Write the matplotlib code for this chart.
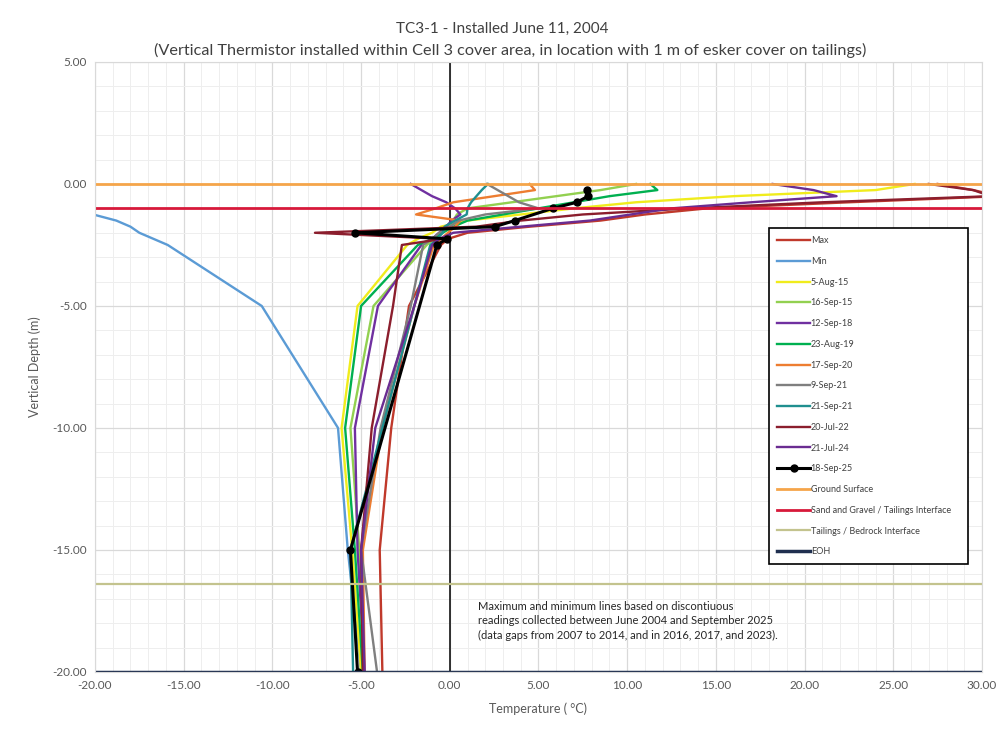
import numpy as np
import matplotlib
matplotlib.use("Agg")
import matplotlib.pyplot as plt
from matplotlib.ticker import MultipleLocator, FormatStrFormatter

plt.rcParams['font.family'] = ['Lato', 'DejaVu Sans']

#%% data (temperature in degC at each thermistor depth, nan = no reading)
depth = [0.0, -0.25, -0.5, -0.75, -1.0, -1.25, -1.5, -1.75, -2.0, -2.25, -2.5, -5.0, -10.0, -15.0, -20.0]

t_max     = [27.5, 29.5, 31.0, 22.5, 14.5, 11.0, 8.5, 4.5, 1.0, -0.1, -0.5, -2.3, -3.3, -3.95, -3.8]
t_min     = [-27.0, -26.0, -24.5, -23.0, -21.5, -20.1, -18.8, -18.0, -17.5, -16.7, -15.9, -10.6, -6.3, -5.75, -5.0]
t_aug15   = [26.2, 24.0, 16.0, 10.5, 7.0, 4.0, 1.0, -0.5, -1.0, -1.8, -2.4, -5.2, -6.1, -5.5, -5.0]
t_sep15   = [10.5, 8.5, 6.0, 3.5, 1.0, 0.4, 0.2, -0.2, -0.5, -0.9, -1.3, -4.3, -5.6, -5.1, -4.85]
t_sep18   = [-2.2, -1.6, -1.0, -0.2, 0.3, 0.6, 0.1, -0.2, -0.6, -1.0, -1.6, -4.05, -5.35, -5.2, -4.8]
t_aug19   = [11.3, 11.7, 9.0, 7.0, 5.0, 3.0, 1.0, 0.2, -0.4, -1.0, -1.8, -5.0, -5.9, -5.35, -4.9]
t_sep20   = [4.5, 4.8, 2.5, 0.2, -0.8, -1.9, 0.6, 0.3, -0.1, -0.5, -0.9, -2.0, -3.8, -4.9, -4.8]
t_sep21a  = [2.1, 2.7, 3.3, 3.9, 5.0, 2.0, 0.5, 0.0, -0.6, -1.0, -1.5, -2.2, -3.9, -5.0, -4.1]
t_sep21b  = [2.15, 1.8, 1.5, 1.2, 1.0, 0.95, 0.3, -0.3, -0.4, -0.7, -1.1, -2.0, -3.8, -5.6, -5.45]
t_jul22   = [27.0, 29.5, 30.5, 21.0, 13.5, 7.5, 4.0, 1.5, -7.6, -0.4, -2.7, -3.2, -4.4, -5.0, -4.9]
t_jul24   = [18.2, 20.5, 21.8, 17.0, 12.5, 10.2, 7.9, 4.0, 0.2, -0.6, -1.0, -2.0, -4.2, -5.0, -4.8]
t_sep25   = [np.nan, 7.72, 7.8, 7.16, 5.8, np.nan, 3.66, 2.54, -5.36, -0.17, -0.73, np.nan, np.nan, -5.6, -5.2]

ground_surface = 0.0
sand_tailings = -1.0
tailings_bedrock = -16.4
eoh = -20.0
temp_span = [-20.0, 30.0]

series = [
    ('Max', t_max, '#C0392B'),
    ('Min', t_min, '#5B9BD5'),
    ('5-Aug-15', t_aug15, '#F0EC1C'),
    ('16-Sep-15', t_sep15, '#92D050'),
    ('12-Sep-18', t_sep18, '#7030A0'),
    ('23-Aug-19', t_aug19, '#00B050'),
    ('17-Sep-20', t_sep20, '#ED7D31'),
    ('9-Sep-21', t_sep21a, '#7F7F7F'),
    ('21-Sep-21', t_sep21b, '#1F8F8F'),
    ('20-Jul-22', t_jul22, '#8B1E2D'),
    ('21-Jul-24', t_jul24, '#6A2C91'),
]

#%% figure
fig = plt.figure(figsize=(10.04, 7.36), dpi=100)
ax = fig.add_axes([0.0946, 0.087, 0.8835, 0.8288])

depth = np.array(depth)
for label, temps, col in series:
    temps = np.array(temps)
    ok = ~np.isnan(temps)
    ax.plot(temps[ok], depth[ok], color=col, lw=1.7, label=label, solid_joinstyle='round')

temps = np.array(t_sep25)
ok = ~np.isnan(temps)
ax.plot(temps[ok], depth[ok], color='black', lw=2.2, marker='o', ms=5, label='18-Sep-25')

# reference levels
ax.plot(temp_span, [ground_surface] * 2, color='#F5A54A', lw=2, label='Ground Surface')
ax.plot(temp_span, [sand_tailings] * 2, color='#D7193A', lw=2, label='Sand and Gravel / Tailings Interface')
ax.plot(temp_span, [tailings_bedrock] * 2, color='#C3C38E', lw=1.6, label='Tailings / Bedrock Interface')
ax.plot(temp_span, [eoh] * 2, color='#1F2F4F', lw=2.5, label='EOH')

ax.axvline(0, color='black', lw=1.1, zorder=1)

ax.set_xlim(-20, 30)
ax.set_ylim(-20, 5)
ax.xaxis.set_major_locator(MultipleLocator(5))
ax.xaxis.set_minor_locator(MultipleLocator(1))
ax.yaxis.set_major_locator(MultipleLocator(5))
ax.yaxis.set_minor_locator(MultipleLocator(1))
ax.xaxis.set_major_formatter(FormatStrFormatter('%.2f'))
ax.yaxis.set_major_formatter(FormatStrFormatter('%.2f'))
ax.grid(which='major', color='#D9D9D9', lw=0.9)
ax.grid(which='minor', color='#EEEEEE', lw=0.7)
ax.set_axisbelow(True)
ax.tick_params(which='both', length=0, labelsize=8.5, labelcolor='#595959', pad=6)
for s in ax.spines.values():
    s.set_color('#D9D9D9')

ax.set_xlabel('Temperature ( °C)', fontsize=9, color='#595959', labelpad=8)
ax.set_ylabel('Vertical Depth (m)', fontsize=9, color='#595959', labelpad=8)

fig.text(0.5, 0.961, 'TC3-1 - Installed June 11, 2004', ha='center', va='center',
         fontsize=11, color='#404040')
fig.text(0.508, 0.931, '(Vertical Thermistor installed within Cell 3 cover area, in location with 1 m of esker cover on tailings)',
         ha='center', va='center', fontsize=11.7, color='#404040')

ax.text(1.6, -17.1, 'Maximum and minimum lines based on discontiuous\n'
        'readings collected between June 2004 and September 2025\n'
        '(data gaps from 2007 to 2014, and in 2016, 2017, and 2023).',
        fontsize=8, color='#262626', va='top', ha='left', linespacing=1.35)

leg = ax.legend(loc='upper left', bbox_to_anchor=(0.755, 0.735, 0.234, 0.0), mode='expand',
                fontsize=6.5, labelspacing=1.3, handlelength=3.6, handletextpad=0.1,
                borderpad=0.9, fancybox=False, framealpha=1, edgecolor='black')
leg.get_frame().set_linewidth(1.2)
for t in leg.get_texts():
    t.set_color('#404040')

fig.savefig('out.png', dpi=100)
